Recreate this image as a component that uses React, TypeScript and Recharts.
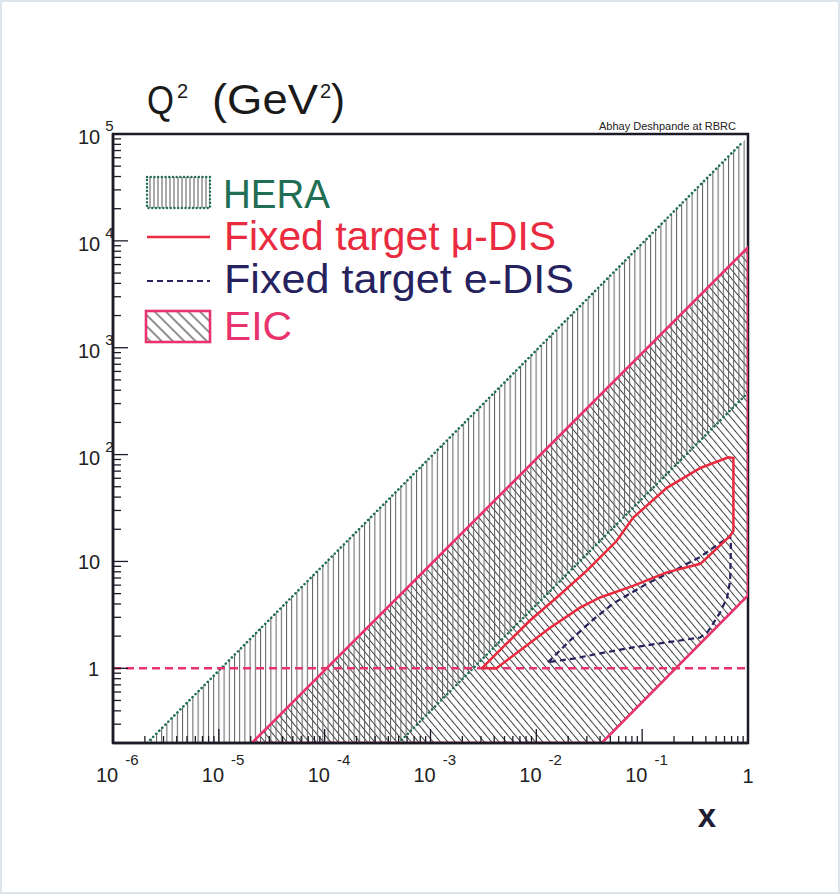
import React from "react";
import {
    ComposedChart,
    Area,
    Line,
    XAxis,
    YAxis,
    ReferenceLine,
    ReferenceArea,
} from "recharts";

const FONT = '"Liberation Sans", Arial, Helvetica, sans-serif';

// HERA kinematic region (vertical hatch)
const heraX = [2.1e-6, 5e-4, 1];
const heraLow = [0.2, 0.2, 380];
const heraHigh = [0.2, 47.6, 9.4e4];

// HERA boundaries (green dotted)
const heraUpperX = [2.1e-6, 0.9];
const heraUpperQ2 = [0.2, 8.5e4];
const heraLowerX = [5e-4, 1];
const heraLowerQ2 = [0.2, 380];

// EIC region (diagonal hatch)
const eicX = [2.05e-5, 0.0415, 1];
const eicLow = [0.2, 0.2, 4.8];
const eicHigh = [0.2, 373, 8.7e3];

// EIC outline
const eicBorderX = [2.05e-5, 1, 1, 0.0415, 2.05e-5];
const eicBorderQ2 = [0.2, 8.7e3, 4.8, 0.2, 0.2];

// Fixed target mu-DIS outline
const muX = [3.05e-3, 4.84e-3, 8.7e-3, 0.0156, 0.03, 0.0575, 0.082, 0.171, 0.355, 0.653, 0.728,
    0.728, 0.676, 0.355, 0.171, 0.082, 0.04, 0.0259, 0.0135, 7.0e-3, 4.2e-3, 3.05e-3];
const muQ2 = [1, 1.58, 2.8, 4.6, 8.2, 15.6, 25.6, 48.8, 74.9, 94.2, 92.7,
    19.3, 17.3, 9.5, 7.9, 5.9, 4.6, 3.7, 2.4, 1.47, 1, 1];

// Fixed target e-DIS outline
const eX = [0.0129, 0.0208, 0.0336, 0.053, 0.111, 0.214, 0.352, 0.678, 0.69, 0.678, 0.634,
    0.544, 0.419, 0.352, 0.172, 0.082, 0.04, 0.0232, 0.0129];
const eQ2 = [1.14, 1.82, 2.8, 4.03, 6.2, 8.5, 11.0, 17.3, 14.0, 6.6, 4.58,
    3.32, 2.21, 1.94, 1.75, 1.57, 1.38, 1.24, 1.14];

const xMajor = [1e-6, 1e-5, 1e-4, 1e-3, 1e-2, 1e-1, 1];
const yMajor = [1, 10, 100, 1e3, 1e4, 1e5];
const minorSteps = [2, 3, 4, 5, 6, 7, 8, 9];

const xTicks = [
    ...xMajor,
    ...xMajor.slice(0, -1).flatMap(m => minorSteps.map(s => s * m)),
];
const yTicks = [
    ...yMajor,
    ...[0.1, ...yMajor.slice(0, -1)].flatMap(m => minorSteps.map(s => s * m)),
].filter(v => v >= 0.2);

const pts = (xs: number[], ys: number[]) => xs.map((x, i) => ({ x, y: ys[i] }));
const band = (xs: number[], lo: number[], hi: number[]) =>
    xs.map((x, i) => ({ x, range: [lo[i], hi[i]] }));

const AXIS = "#1c1c28";
const GREEN = "#216e55";
const RED = "#ea2a3e";
const PINK = "#e8336c";
const NAVY = "#25225e";

const isMajor = (v: number) => Math.abs(Math.log10(v) - Math.round(Math.log10(v))) < 1e-6;

function XTick(props: any) {
    const { x, y, payload } = props;
    const v = payload.value;
    const major = isMajor(v);
    const e = Math.round(Math.log10(v));
    return (
        <g>
            <line x1={x} y1={y} x2={x} y2={y - (major ? 14 : 7)} stroke={AXIS} strokeWidth={1.3} />
            {major && e === 0 && (
                <text x={x} y={y + 40} textAnchor="middle" fontSize={20} fontFamily={FONT} fill="#222">1</text>
            )}
            {major && e !== 0 && (
                <text x={x - 17} y={y + 39} fontSize={20} fontFamily={FONT} fill="#222">
                    10<tspan dx={7} dy={-17} fontSize={15}>{e}</tspan>
                </text>
            )}
        </g>
    );
}

function YTick(props: any) {
    const { x, y, payload } = props;
    const v = payload.value;
    const major = isMajor(v);
    const e = Math.round(Math.log10(v));
    return (
        <g>
            <line x1={x} y1={y} x2={x + (major ? 15 : 8)} y2={y} stroke={AXIS} strokeWidth={1.3} />
            {major && e >= 2 && (
                <text x={x - 35} y={y + 10} fontSize={20} fontFamily={FONT} fill="#222">
                    10<tspan dx={5} dy={-13} fontSize={15}>{e}</tspan>
                </text>
            )}
            {major && e === 1 && (
                <text x={x - 35} y={y + 8} fontSize={20} fontFamily={FONT} fill="#222">10</text>
            )}
            {major && e === 0 && (
                <text x={x - 14} y={y + 8} textAnchor="end" fontSize={20} fontFamily={FONT} fill="#222">1</text>
            )}
        </g>
    );
}

function Overlay() {
    return (
        <svg width={840} height={894} style={{ position: "absolute", left: 0, top: 0, pointerEvents: "none" }}>
            <g fontFamily={FONT} fill="#1a1a1a">
                <text x={147} y={114} fontSize={40} textLength={27} lengthAdjust="spacingAndGlyphs">Q</text>
                <text x={177} y={98} fontSize={20}>2</text>
                <text x={212} y={114} fontSize={42} textLength={106} lengthAdjust="spacingAndGlyphs">(GeV</text>
                <text x={320} y={98} fontSize={20}>2</text>
                <text x={331} y={114} fontSize={42}>)</text>
            </g>
            <text x={599} y={130} fontSize={11} fontFamily={FONT} fill="#222">Abhay Deshpande at RBRC</text>
            <text x={707} y={827} textAnchor="middle" fontSize={33} fontWeight="bold" fontFamily={FONT} fill="#1d1d33">x</text>

            {/* legend */}
            <rect x={147} y={177} width={63} height={31} fill="url(#heraLegend)" stroke={GREEN}
                strokeWidth={2.4} strokeDasharray="0.1 3.6" strokeLinecap="round" />
            <text x={223} y={208} fontSize={41} fontFamily={FONT} fill={GREEN}
                textLength={107} lengthAdjust="spacingAndGlyphs">HERA</text>

            <line x1={147} y1={237} x2={210} y2={237} stroke={RED} strokeWidth={2.5} />
            <text x={224} y={250} fontSize={40} fontFamily={FONT} fill={RED}
                textLength={332} lengthAdjust="spacingAndGlyphs">Fixed target μ-DIS</text>

            <line x1={147} y1={281} x2={210} y2={281} stroke={NAVY} strokeWidth={2.2} strokeDasharray="6 4" />
            <text x={224} y={293} fontSize={40} fontFamily={FONT} fill={NAVY}
                textLength={350} lengthAdjust="spacingAndGlyphs">Fixed target e-DIS</text>

            <rect x={146} y={311} width={64} height={31} fill="url(#eicLegend)" stroke={PINK} strokeWidth={2.6} />
            <text x={224} y={340} fontSize={41} fontFamily={FONT} fill={PINK}
                textLength={68} lengthAdjust="spacingAndGlyphs">EIC</text>
        </svg>
    );
}

export default function App() {
    return (
        <div style={{ position: "absolute", left: 0, top: 0, width: 840, height: 894, background: "#fff",
            boxShadow: "inset 0 0 0 2px #dde4ec" }}>
            <svg width={0} height={0} style={{ position: "absolute" }}>
                <defs>
                    <pattern id="heraHatch" width={5.2} height={10} patternUnits="userSpaceOnUse">
                        <line x1={0.5} y1={0} x2={0.5} y2={10} stroke="#5e5e5e" strokeWidth={1} />
                    </pattern>
                    <pattern id="eicHatch" width={5.6} height={10} patternUnits="userSpaceOnUse"
                        patternTransform="rotate(-40)">
                        <line x1={0.5} y1={0} x2={0.5} y2={10} stroke="#404040" strokeWidth={1} />
                    </pattern>
                    <pattern id="heraLegend" width={4} height={10} patternUnits="userSpaceOnUse">
                        <line x1={2} y1={0} x2={2} y2={10} stroke="#555" strokeWidth={1} />
                    </pattern>
                    <pattern id="eicLegend" width={8} height={10} patternUnits="userSpaceOnUse"
                        patternTransform="rotate(-45)">
                        <line x1={1} y1={0} x2={1} y2={10} stroke="#444" strokeWidth={1.2} />
                    </pattern>
                </defs>
            </svg>
            <ComposedChart width={840} height={894} margin={{ top: 134, right: 92, bottom: 91, left: 0 }}>
                <XAxis
                    type="number"
                    dataKey="x"
                    scale="log"
                    domain={[1e-6, 1]}
                    allowDataOverflow
                    ticks={xTicks}
                    interval={0}
                    tick={(p: any) => <XTick {...p} />}
                    tickLine={false}
                    tickSize={0}
                    tickMargin={0}
                    axisLine={{ stroke: AXIS, strokeWidth: 2.5 }}
                    height={60}
                />
                <YAxis
                    type="number"
                    scale="log"
                    domain={[0.2, 1e5]}
                    allowDataOverflow
                    ticks={yTicks}
                    interval={0}
                    tick={(p: any) => <YTick {...p} />}
                    tickLine={false}
                    tickSize={0}
                    tickMargin={0}
                    axisLine={{ stroke: AXIS, strokeWidth: 2.5 }}
                    width={113}
                />
                <Area data={band(eicX, eicLow, eicHigh)} dataKey="range" type="linear" stroke="none"
                    fill="url(#eicHatch)" fillOpacity={1} isAnimationActive={false} />
                <Area data={band(heraX, heraLow, heraHigh)} dataKey="range" type="linear" stroke="none"
                    fill="url(#heraHatch)" fillOpacity={1} isAnimationActive={false} />
                <Line data={pts(heraUpperX, heraUpperQ2)} dataKey="y" type="linear" stroke={GREEN}
                    strokeWidth={2.6} strokeDasharray="0.1 4.2" strokeLinecap="round" dot={false} isAnimationActive={false} />
                <Line data={pts(heraLowerX, heraLowerQ2)} dataKey="y" type="linear" stroke={GREEN}
                    strokeWidth={2.6} strokeDasharray="0.1 4.2" strokeLinecap="round" dot={false} isAnimationActive={false} />
                <Line data={pts(eicBorderX, eicBorderQ2)} dataKey="y" type="linear" stroke={PINK}
                    strokeWidth={2.6} dot={false} isAnimationActive={false} />
                <ReferenceLine y={1} stroke={PINK} strokeWidth={2.4} strokeDasharray="8 5" />
                <Line data={pts(eX, eQ2)} dataKey="y" type="linear" stroke={NAVY}
                    strokeWidth={2.2} strokeDasharray="6 4" dot={false} isAnimationActive={false} />
                <Line data={pts(muX, muQ2)} dataKey="y" type="linear" stroke={RED}
                    strokeWidth={2.5} dot={false} isAnimationActive={false} />
                <ReferenceArea x1={1e-6} x2={1} y1={0.2} y2={1e5} fill="none" stroke={AXIS} strokeWidth={2.5}
                    ifOverflow="visible" />
            </ComposedChart>
            <Overlay />
        </div>
    );
}
